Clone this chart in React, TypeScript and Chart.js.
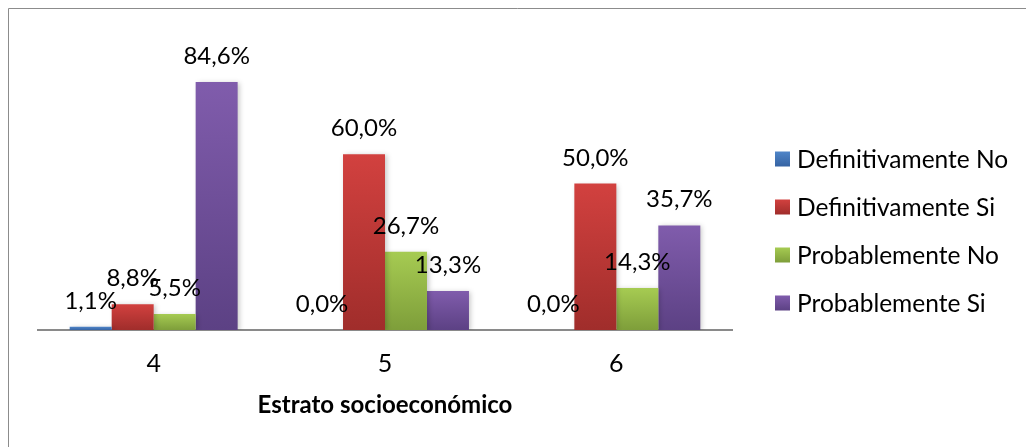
import { useEffect, useRef } from "react";
import { Chart, registerables } from "chart.js";

Chart.register(...registerables);

// Socio-economic stratum (x categories)
const categories = ["4", "5", "6"];

// Series names, in legend order
const seriesNames = [
  "Definitivamente No",
  "Definitivamente Si",
  "Probablemente No",
  "Probablemente Si",
];

// Percentages per stratum
const definitivamenteNo = [1.1, 0.0, 0.0];
const definitivamenteSi = [8.8, 60.0, 50.0];
const probablementeNo = [5.5, 26.7, 14.3];
const probablementeSi = [84.6, 13.3, 35.7];

const axisTitle = "Estrato socioeconómico";

// Vertical gradient (top -> bottom) for each series
const gradients = [
  ["#4F85C8", "#3563A3"],
  ["#D2413F", "#A02D2B"],
  ["#A6CB52", "#7E9E3A"],
  ["#805CAC", "#5C4184"],
];

const FONT = "Lato, 'Open Sans', sans-serif";

const formatPct = (v: number) => v.toFixed(1).replace(".", ",") + "%";

// Soft drop shadow under the bars
const barShadow = {
  id: "barShadow",
  beforeDatasetsDraw(chart: Chart) {
    const ctx = chart.ctx;
    ctx.save();
    ctx.shadowColor = "rgba(0,0,0,0.22)";
    ctx.shadowBlur = 5;
    ctx.shadowOffsetX = 2;
    ctx.shadowOffsetY = 1;
  },
  afterDatasetsDraw(chart: Chart) {
    chart.ctx.restore();
  },
};

// Value labels above each bar
const valueLabels = {
  id: "valueLabels",
  afterDatasetsDraw(chart: Chart) {
    const ctx = chart.ctx;
    ctx.save();
    ctx.font = `24px ${FONT}`;
    ctx.fillStyle = "#000";
    ctx.textAlign = "center";
    ctx.textBaseline = "alphabetic";
    chart.data.datasets.forEach((ds, di) => {
      const meta = chart.getDatasetMeta(di);
      meta.data.forEach((el: any, i) => {
        const v = ds.data[i] as number;
        ctx.fillText(formatPct(v), el.x, el.y - 18);
      });
    });
    ctx.restore();
  },
};

// Legend on the right plus the outer frame
const sideLegend = {
  id: "sideLegend",
  afterDraw(chart: Chart) {
    const ctx = chart.ctx;
    ctx.save();
    // frame
    ctx.strokeStyle = "#8c8c8c";
    ctx.lineWidth = 1;
    ctx.beginPath();
    ctx.moveTo(8.5, chart.height);
    ctx.lineTo(8.5, 8.5);
    ctx.lineTo(chart.width, 8.5);
    ctx.stroke();

    const x0 = 775;
    const y0 = 159;
    const step = 48;
    const box = 15;
    ctx.font = `24.5px ${FONT}`;
    ctx.textBaseline = "middle";
    ctx.textAlign = "left";
    chart.data.datasets.forEach((ds, i) => {
      const cy = y0 + i * step;
      const g = ctx.createLinearGradient(0, cy - box / 2, 0, cy + box / 2);
      g.addColorStop(0, gradients[i][0]);
      g.addColorStop(1, gradients[i][1]);
      ctx.fillStyle = g;
      ctx.fillRect(x0, cy - box / 2, box, box);
      ctx.fillStyle = "#000";
      ctx.fillText(String(ds.label), x0 + 22, cy + 1);
    });
    ctx.restore();
  },
};

export default function App() {
  const canvasRef = useRef<HTMLCanvasElement | null>(null);

  useEffect(() => {
    const canvas = canvasRef.current;
    if (!canvas) return;

    const seriesValues = [definitivamenteNo, definitivamenteSi, probablementeNo, probablementeSi];

    const chart = new Chart(canvas, {
      type: "bar",
      data: {
        labels: categories,
        datasets: seriesValues.map((values, si) => ({
          label: seriesNames[si],
          data: values,
          borderWidth: 0,
          backgroundColor: (ctx: any) => {
            const c = ctx.chart;
            const y = c.scales?.y;
            if (!y || ctx.raw == null) return gradients[si][0];
            const top = y.getPixelForValue(ctx.raw);
            const bottom = y.getPixelForValue(0);
            if (!(bottom - top > 0)) return gradients[si][0];
            const g = c.ctx.createLinearGradient(0, top, 0, bottom);
            g.addColorStop(0, gradients[si][0]);
            g.addColorStop(1, gradients[si][1]);
            return g;
          },
          categoryPercentage: 0.726,
          barPercentage: 1,
        })),
      },
      options: {
        responsive: false,
        animation: false,
        devicePixelRatio: 1,
        layout: { padding: { left: 38, right: 294, top: 37, bottom: 0 } },
        plugins: {
          legend: { display: false },
          tooltip: { enabled: false },
        },
        scales: {
          y: {
            display: false,
            min: 0,
            max: 100,
          },
          x: {
            grid: { display: false, drawTicks: false },
            border: { display: true, color: "#8a8a8a", width: 2 },
            ticks: {
              color: "#000",
              font: { family: FONT, size: 25 },
              padding: 19,
            },
            title: {
              display: true,
              text: axisTitle,
              color: "#000",
              font: { family: FONT, size: 24, weight: "bold" },
              padding: { top: 0, bottom: 27 },
            },
            afterFit: (scale: any) => {
              scale.height = 117;
            },
          },
        },
      },
      plugins: [barShadow, valueLabels, sideLegend],
    });

    return () => chart.destroy();
  }, []);

  return (
    <div style={{ position: "fixed", left: 0, top: 0, width: 1026, height: 447, background: "#fff" }}>
      <canvas ref={canvasRef} width={1026} height={447} style={{ display: "block" }} />
    </div>
  );
}
